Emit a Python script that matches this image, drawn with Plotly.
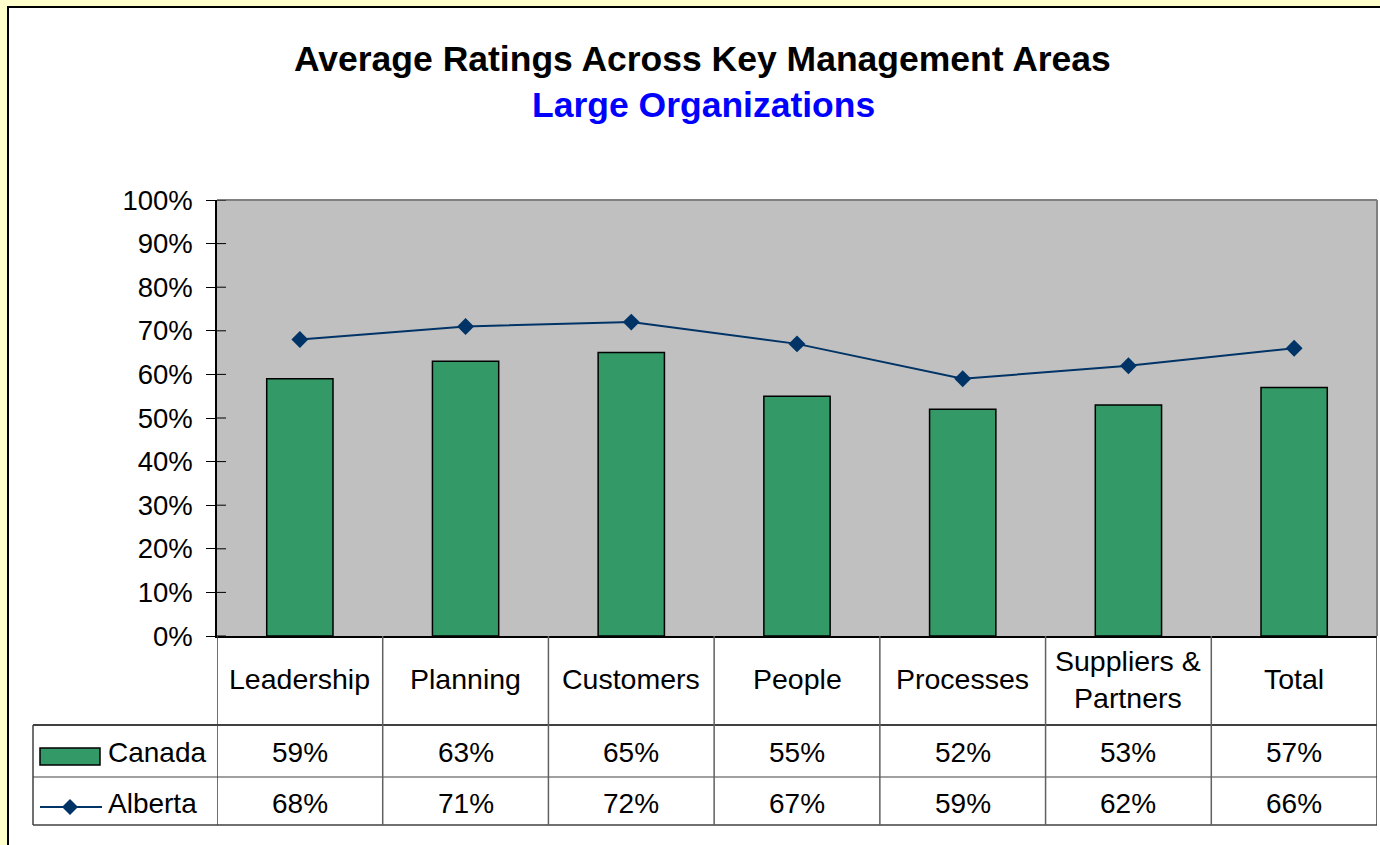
import plotly.graph_objects as go

categories = ["Leadership", "Planning", "Customers", "People", "Processes", "Suppliers &<br>Partners", "Total"]
canada = [0.59, 0.63, 0.65, 0.55, 0.52, 0.53, 0.57]
alberta = [0.68, 0.71, 0.72, 0.67, 0.59, 0.62, 0.66]
series_names = ["Canada", "Alberta"]
y_ticks = [i / 10 for i in range(11)]

W, H = 1380, 845
L, R, T, B = 217, 3, 200, 209
PW, PH = W - L - R, H - T - B

def px(x):
    return (x - L) / PW

def py(y):
    return (H - B - y) / PH

FONT = "Liberation Sans, Arial, sans-serif"
GREEN = "#339966"
NAVY = "#003366"

xs = list(range(len(categories)))

fig = go.Figure()
fig.add_trace(go.Bar(x=xs, y=canada, name=series_names[0], width=0.40,
                     marker=dict(color=GREEN, line=dict(color="#000000", width=1.5))))
fig.add_trace(go.Scatter(x=xs, y=alberta, name=series_names[1], mode="lines+markers",
                         line=dict(color=NAVY, width=2),
                         marker=dict(symbol="diamond", size=13, color=NAVY)))

shapes = []
# white chart area with black border
shapes.append(dict(type="rect", xref="paper", yref="paper", x0=px(8), x1=px(1400), y0=py(7), y1=py(870),
                   fillcolor="#FFFFFF", line=dict(color="#000000", width=2), layer="below"))
# grey plot area
shapes.append(dict(type="rect", xref="paper", yref="paper", x0=0, x1=1, y0=0, y1=1,
                   fillcolor="#C0C0C0", line=dict(width=0), layer="below"))
# plot area top & right grey border
shapes.append(dict(type="line", xref="paper", yref="paper", x0=0, x1=1, y0=1, y1=1,
                   line=dict(color="#808080", width=2)))
shapes.append(dict(type="line", xref="paper", yref="paper", x0=1, x1=1, y0=0, y1=1,
                   line=dict(color="#808080", width=2)))
# inside part of y ticks
for v in y_ticks:
    shapes.append(dict(type="line", xref="paper", yref="y", x0=0, x1=px(226), y0=v, y1=v,
                       line=dict(color="#000000", width=1)))
# table lines
row_top, row_mid, row_bot = py(725), py(777), py(825)
shapes.append(dict(type="line", xref="paper", yref="paper", x0=px(33), x1=1, y0=row_top, y1=row_top,
                   line=dict(color="#000000", width=1.5)))
shapes.append(dict(type="line", xref="paper", yref="paper", x0=px(33), x1=1, y0=row_mid, y1=row_mid,
                   line=dict(color="#808080", width=1.5)))
shapes.append(dict(type="line", xref="paper", yref="paper", x0=px(33), x1=1, y0=row_bot, y1=row_bot,
                   line=dict(color="#404040", width=1.5)))
shapes.append(dict(type="line", xref="paper", yref="paper", x0=px(33), x1=px(33), y0=row_top, y1=row_bot,
                   line=dict(color="#404040", width=1.5)))
for i in range(len(categories) + 1):
    shapes.append(dict(type="line", xref="x", yref="paper", x0=i - 0.5, x1=i - 0.5, y0=0, y1=row_bot,
                       line=dict(color="#404040" if i in (0, len(categories)) else "#606060", width=1.5)))
# legend keys in table
shapes.append(dict(type="rect", xref="paper", yref="paper", x0=px(40), x1=px(100), y0=py(748), y1=py(765),
                   fillcolor=GREEN, line=dict(color="#000000", width=1.5)))
shapes.append(dict(type="line", xref="paper", yref="paper", x0=px(40), x1=px(102), y0=py(807), y1=py(807),
                   line=dict(color=NAVY, width=2)))
cx, cy, d = 70, 807, 8
shapes.append(dict(type="path", xref="paper", yref="paper",
                   path=f"M {px(cx - d)} {py(cy)} L {px(cx)} {py(cy - d)} L {px(cx + d)} {py(cy)} L {px(cx)} {py(cy + d)} Z",
                   fillcolor=NAVY, line=dict(color=NAVY, width=0)))

annotations = []
annotations.append(dict(text="<b>Average Ratings Across Key Management Areas</b>", xref="paper", yref="paper",
                        x=px(702), y=py(59), showarrow=False, xanchor="center", yanchor="middle",
                        font=dict(family=FONT, size=35.5, color="#000000")))
annotations.append(dict(text="<b>Large Organizations</b>", xref="paper", yref="paper",
                        x=px(703), y=py(105), showarrow=False, xanchor="center", yanchor="middle",
                        font=dict(family=FONT, size=35.5, color="#0000FF")))
for i, c in enumerate(categories):
    annotations.append(dict(text=c, xref="x", yref="paper", x=i, y=py(679), showarrow=False,
                            xanchor="center", yanchor="middle",
                            font=dict(family=FONT, size=28.5, color="#000000")))
    annotations.append(dict(text=f"{round(canada[i] * 100)}%", xref="x", yref="paper", x=i, y=py(752),
                            showarrow=False, xanchor="center", yanchor="middle",
                            font=dict(family=FONT, size=28, color="#000000")))
    annotations.append(dict(text=f"{round(alberta[i] * 100)}%", xref="x", yref="paper", x=i, y=py(803),
                            showarrow=False, xanchor="center", yanchor="middle",
                            font=dict(family=FONT, size=28, color="#000000")))
for name, yy in zip(series_names, [752, 803]):
    annotations.append(dict(text=name, xref="paper", yref="paper", x=px(106), y=py(yy), showarrow=False,
                            xanchor="left", yanchor="middle",
                            font=dict(family=FONT, size=28, color="#000000")))

fig.update_layout(
    width=W, height=H,
    margin=dict(l=L, r=R, t=T, b=B, pad=0),
    paper_bgcolor="#FFFFCC",
    plot_bgcolor="#C0C0C0",
    showlegend=False,
    font=dict(family=FONT, size=27, color="#000000"),
    xaxis=dict(range=[-0.5, len(categories) - 0.5], showticklabels=False, ticks="",
               showgrid=False, zeroline=False, showline=True, linecolor="#000000", linewidth=1.5),
    yaxis=dict(range=[0, 1], tickvals=y_ticks, tickformat=".0%", ticks="outside", ticklen=9,
               tickcolor="#000000", tickwidth=1, showgrid=False, zeroline=False,
               showline=True, linecolor="#000000", linewidth=1.5, ticklabelstandoff=8,
               tickfont=dict(family=FONT, size=27.5, color="#000000")),
    shapes=shapes,
    annotations=annotations,
    bargap=0.6,
)

fig.write_html("out.html")
